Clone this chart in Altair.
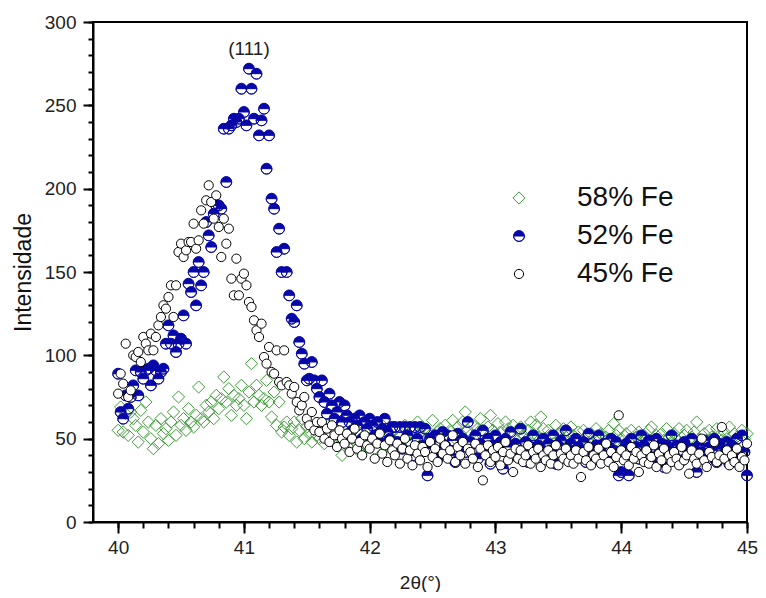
import altair as alt
import pandas as pd

# 2theta grid of the scan (step 0.02 deg from 40 to 45)
two_theta = [round(40 + 0.02 * i, 2) for i in range(251)]

series_names = ["58% Fe", "52% Fe", "45% Fe"]

fe58 = [
    55, 69, 54, 65, 52, 66, 62, 58, 48, 67,
    54, 72, 60, 50, 44, 58, 47, 62, 53, 56,
    49, 60, 66, 52, 75, 58, 62, 55, 68, 60,
    57, 64, 81, 62, 60, 70, 66, 72, 62, 76,
    68, 74, 87, 72, 80, 64, 76, 70, 74, 82,
    70, 62, 78, 95, 72, 82, 76, 70, 74, 85,
    72, 63, 78, 58, 72, 54, 57, 60, 52, 56,
    60, 48, 55, 62, 50, 57, 53, 48, 56, 52,
    50, 55, 47, 58, 52, 49, 54, 46, 51, 40,
    48, 53, 44, 50, 46, 55, 42, 49, 52, 45,
    47, 52, 44, 55, 49, 58, 60, 46, 53, 50,
    56, 48, 51, 45, 58, 52, 47, 55, 50, 60,
    53, 57, 49, 55, 52, 61, 47, 54, 56, 50,
    58, 52, 55, 61, 50, 57, 53, 60, 66, 55,
    52, 58, 49, 56, 62, 53, 50, 57, 64, 55,
    51, 59, 54, 48, 60, 56, 52, 58, 50, 55,
    57, 52, 49, 55, 60, 53, 58, 51, 63, 56,
    50, 55, 52, 47, 58, 53, 49, 56, 51, 54,
    57, 52, 49, 54, 46, 55, 51, 48, 53, 50,
    56, 49, 53, 47, 51, 55, 48, 59, 52, 55,
    50, 46, 53, 49, 55, 47, 51, 54, 48, 52,
    50, 55, 57, 48, 52, 46, 53, 49, 56, 51,
    48, 53, 50, 56, 47, 52, 55, 49, 51, 54,
    60, 50, 47, 53, 49, 55, 51, 46, 56, 52,
    49, 54, 50, 57, 48, 53, 51, 47, 55, 50,
    53,
]

fe52 = [
    89, 66, 62, 76, 68, 75, 82, 91, 76, 90,
    86, 91, 92, 82, 94, 91, 86, 90, 92, 107,
    118, 107, 112, 102, 107, 110, 124, 107, 143, 138,
    150, 130, 156, 142, 150, 180, 172, 165, 185, 190,
    190, 188, 236, 204, 236, 238, 242, 240, 242, 260,
    246, 238, 272, 260, 242, 269, 232, 241, 248, 212,
    232, 194, 188, 162, 176, 150, 164, 150, 136, 122,
    120, 130, 108, 101, 95, 85, 86, 96, 85, 80,
    75, 85, 72, 65, 77, 70, 62, 66, 72, 60,
    70, 64, 60, 55, 62, 58, 64, 50, 60, 56,
    62, 58, 52, 60, 48, 56, 62, 54, 50, 57,
    57, 48, 57, 44, 57, 52, 57, 40, 57, 50,
    57, 46, 56, 28, 50, 44, 52, 38, 48, 54,
    46, 52, 40, 49, 36, 53, 45, 50, 42, 60,
    48, 44, 52, 38, 47, 55, 43, 50, 35, 46,
    52, 44, 48, 32, 50, 45, 54, 40, 47, 43,
    56, 42, 48, 36, 45, 52, 40, 46, 44, 50,
    38, 47, 43, 52, 35, 46, 49, 41, 55, 44,
    47, 38, 50, 45, 42, 48, 36, 53, 44, 40,
    46, 52, 42, 47, 38, 45, 50, 43, 48, 28,
    30, 44, 47, 28, 50, 42, 45, 38, 52, 46,
    43, 49, 36, 45, 50, 41, 47, 33, 46, 44,
    52, 40, 46, 43, 37, 48, 45, 42, 50, 44,
    30, 46, 42, 49, 38, 45, 43, 50, 36, 47,
    44, 41, 48, 35, 46, 43, 50, 38, 52, 42,
    28,
]

fe45 = [
    77, 89, 83, 107, 75, 79, 100, 99, 102, 96,
    111, 107, 103, 113, 103, 111, 118, 123, 130, 128,
    135, 142, 123, 142, 162, 167, 159, 163, 168, 168,
    179, 164, 169, 187, 179, 193, 202, 192, 182, 196,
    177, 159, 182, 167, 176, 146, 136, 158, 136, 146,
    149, 142, 132, 129, 121, 115, 111, 119, 99, 95,
    105, 90, 89, 103, 84, 82, 103, 84, 82, 77,
    81, 72, 67, 70, 75, 62, 58, 66, 55, 60,
    54, 60, 50, 56, 48, 58, 52, 45, 55, 50,
    47, 53, 42, 50, 56, 44, 48, 40, 52, 46,
    44, 50, 38, 47, 53, 41, 46, 36, 49, 43,
    40, 47, 35, 44, 50, 38, 43, 34, 46, 41,
    37, 45, 42, 33, 48, 39, 44, 36, 50, 41,
    46, 38, 43, 52, 36, 45, 40, 48, 35, 44,
    42, 38, 47, 33, 44, 25, 40, 46, 36, 43,
    39, 45, 34, 42, 48, 37, 41, 30, 44, 38,
    43, 36, 40, 46, 35, 42, 38, 44, 33, 40,
    37, 43, 35, 40, 46, 34, 41, 38, 44, 36,
    40, 35, 43, 38, 27, 42, 37, 45, 34, 40,
    38, 44, 35, 40, 47, 36, 42, 33, 39, 64,
    43, 37, 40, 34, 45, 38, 42, 30, 40, 36,
    43, 35, 39, 46, 33, 41, 37, 44, 32, 40,
    36, 42, 38, 34, 45, 37, 40, 29, 43, 38,
    35, 41, 50, 37, 33, 42, 39, 48, 36, 40,
    57, 38, 43, 34, 40, 36, 44, 33, 39, 37,
    47,
]

x_major = [40, 41, 42, 43, 44, 45]
x_minor = [round(40 + 0.2 * i, 1) for i in range(26)]
y_major = [0, 50, 100, 150, 200, 250, 300]
y_minor = list(range(0, 301, 10))

peak_label = ["(111)"]
peak_pos = [41.04]
peak_int = [284]

assert len(fe58) == len(fe52) == len(fe45) == len(two_theta)

rows = []
for name, vals in zip(series_names, [fe58, fe52, fe45]):
    for t, v in zip(two_theta, vals):
        rows.append({"t": t, "I": v, "s": name})
df = pd.DataFrame(rows)

ann = pd.DataFrame({"t": peak_pos, "I": peak_int, "label": peak_label})

GREEN = "#3f9c3a"
BLUE = "#0808a8"
FONT = "Liberation Sans"

# circle with top half filled (nonzero winding leaves bottom half empty)
half_circle = "M-1,0A1,1,0,1,1,1,0A1,1,0,1,1,-1,0ZM-1,0A1,1,0,0,0,1,0Z"

leg = alt.Legend(
    title=None, orient="none", legendX=412, legendY=162,
    labelFontSize=28, labelFont=FONT, labelColor="#111",
    labelOffset=44, rowPadding=10, padding=0, symbolStrokeWidth=1,
)

xscale = alt.Scale(domain=[39.8, 45], nice=False, zero=False)
yscale = alt.Scale(domain=[0, 300], nice=False)

xaxis = alt.Axis(
    values=x_major, title="2θ(°)", grid=False, orient="bottom",
    format="d", labelFlush=False, tickSize=11,
    tickWidth=2, tickColor="black", domainWidth=2, domainColor="black",
    labelFontSize=19, labelFont=FONT, labelColor="#222", labelPadding=5,
    titleFontSize=19, titleFont=FONT, titleColor="#222", titleFontWeight="normal", titlePadding=16,
)
yaxis = alt.Axis(
    values=y_major, title="Intensidade", grid=False, orient="left",
    format="d", labelFlush=False, tickSize=10,
    tickWidth=2, tickColor="black", domainWidth=2, domainColor="black",
    labelFontSize=19, labelFont=FONT, labelColor="#222", labelPadding=7,
    titleFontSize=23, titleFont=FONT, titleColor="#111", titleFontWeight="normal", titlePadding=9,
)
xaxis_minor = alt.Axis(
    values=x_minor, title=None, grid=False, orient="bottom", labels=False, domain=False,
    tickSize=6, tickWidth=2, tickColor="black",
)
yaxis_minor = alt.Axis(
    values=y_minor, title=None, grid=False, orient="left", labels=False, domain=False,
    tickSize=5, tickWidth=2, tickColor="black",
)

points = alt.Chart(df).mark_point(opacity=1, strokeWidth=1).encode(
    x=alt.X("t:Q", scale=xscale, axis=xaxis),
    y=alt.Y("I:Q", scale=yscale, axis=yaxis),
    shape=alt.Shape("s:N", scale=alt.Scale(domain=series_names, range=["diamond", half_circle, "circle"]), legend=leg),
    stroke=alt.Stroke("s:N", scale=alt.Scale(domain=series_names, range=[GREEN, BLUE, "black"]), legend=leg),
    fill=alt.Fill("s:N", scale=alt.Scale(domain=series_names, range=["transparent", BLUE, "white"]), legend=leg),
    size=alt.Size("s:N", scale=alt.Scale(domain=series_names, range=[150, 85, 75]), legend=leg),
)

text = alt.Chart(ann).mark_text(fontSize=19, font=FONT, color="#222", baseline="middle").encode(
    x=alt.X("t:Q", scale=xscale, axis=xaxis_minor),
    y=alt.Y("I:Q", scale=yscale, axis=yaxis_minor),
    text="label:N",
)

chart = alt.layer(points, text).resolve_axis(x="independent", y="independent").properties(
    width=654, height=500,
    autosize=alt.AutoSizeParams(type="none"),
    padding={"left": 85, "top": 14, "right": 11, "bottom": 70},
).configure_view(stroke="black", strokeWidth=2)

chart.save("out.html", embed_options={"renderer": "svg", "actions": False})
